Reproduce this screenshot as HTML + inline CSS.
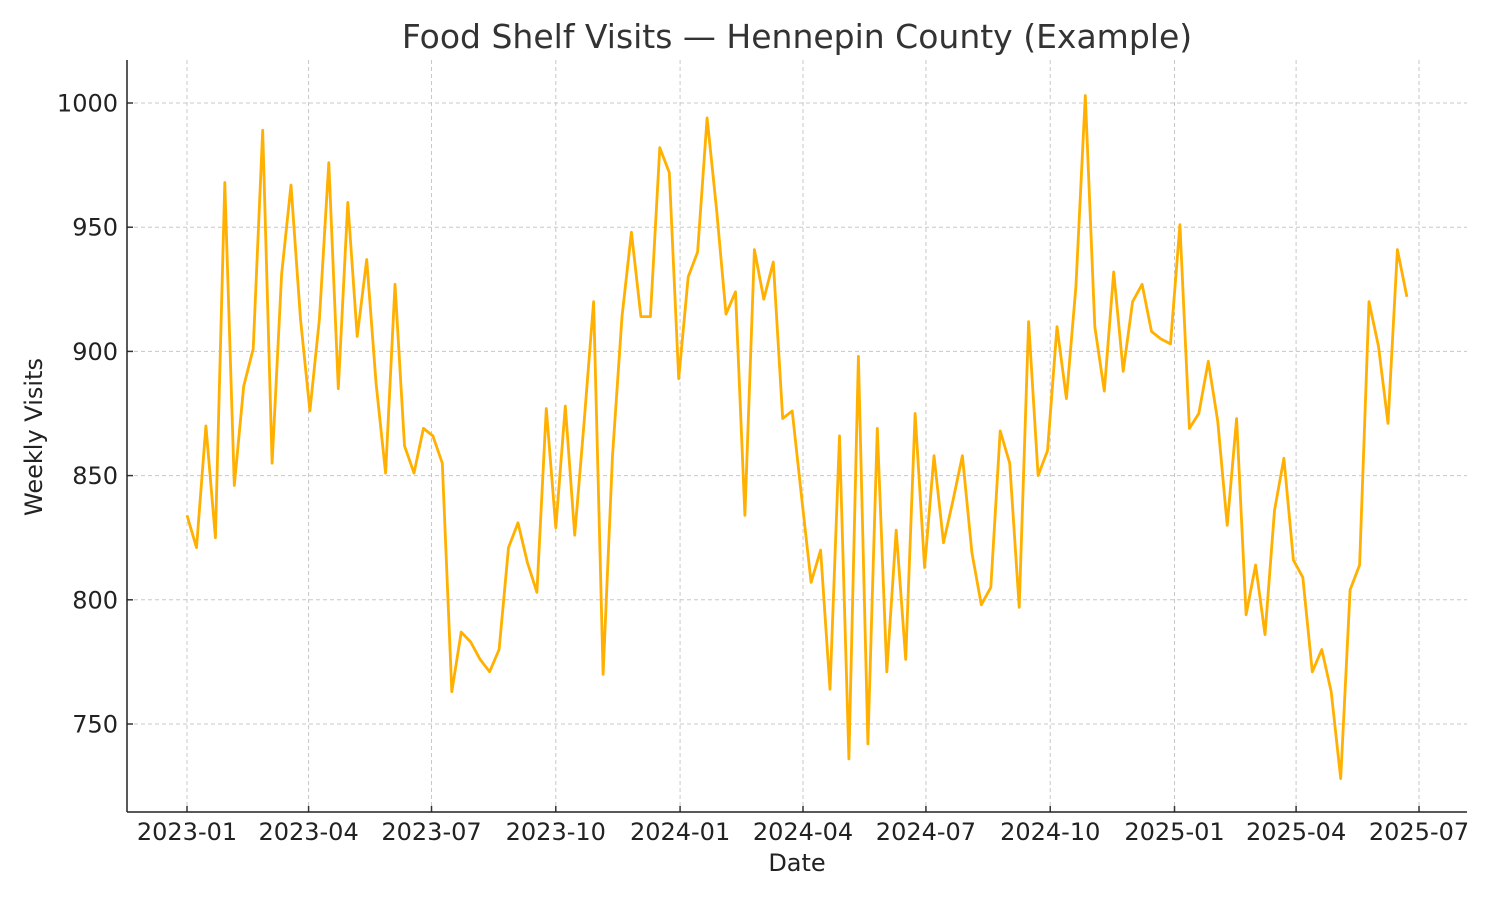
<!DOCTYPE html>
<html><head><meta charset="utf-8">
<style>
body{margin:0;background:#fff;}
svg{display:block;font-family:"DejaVu Sans","Liberation Sans",sans-serif;}
</style></head>
<body>
<svg id="chart" width="1500" height="900" viewBox="0 0 1500 900">
  <rect width="1500" height="900" fill="#fff"/>
  <text x="797" y="48" text-anchor="middle" font-size="33" fill="#333">Food Shelf Visits — Hennepin County (Example)</text>
  <g id="grid"></g>
  <g id="axes"></g>
  <g id="series"></g>
  <text x="797" y="871" text-anchor="middle" font-size="24" fill="#222">Date</text>
  <text x="0" y="0" transform="translate(42,437) rotate(-90)" text-anchor="middle" font-size="24" fill="#222">Weekly Visits</text>
</svg>
<script>
const startDate = "2023-01-01";
const weeklyVisits = [834,821,870,825,968,846,886,901,989,855,931,967,913,876,913,976,885,960,906,937,887,851,927,862,851,869,866,855,763,787,783,776,771,780,821,831,815,803,877,829,878,826,872,920,770,858,914,948,914,914,982,972,889,930,940,994,957,915,924,834,941,921,936,873,876,841,807,820,764,866,736,898,742,869,771,828,776,875,813,858,823,840,858,819,798,805,868,855,797,912,850,860,910,881,926,1003,910,884,932,892,920,927,908,905,903,951,869,875,896,872,830,873,794,814,786,836,857,816,809,771,780,763,728,804,814,920,902,871,941,922];
const xTickLabels = ["2023-01","2023-04","2023-07","2023-10","2024-01","2024-04","2024-07","2024-10","2025-01","2025-04","2025-07"];
const yTickValues = [750,800,850,900,950,1000];

const NS="http://www.w3.org/2000/svg";
const L=127,R=1467,T=60,B=812;
const t0=Date.UTC(2023,0,1), DAY=86400000;
function xScale(ms){return 187+(ms-t0)/DAY*1.3509;}
function yScale(v){return 103+(1000-v)*2.484;}
function mk(tag,attrs,parent){const e=document.createElementNS(NS,tag);for(const k in attrs)e.setAttribute(k,attrs[k]);parent.appendChild(e);return e;}
const grid=document.getElementById('grid'),axes=document.getElementById('axes'),series=document.getElementById('series');

xTickLabels.forEach(lbl=>{
  const [y,m]=lbl.split('-').map(Number);
  const x=xScale(Date.UTC(y,m-1,1));
  const g=mk('line',{x1:x,x2:x,y1:T,y2:B,stroke:'#c8c8c8','stroke-width':1,'stroke-dasharray':'4,3'},grid);
  
  
  const tk=mk('line',{x1:x,x2:x,y1:B-6,y2:B,stroke:'#333','stroke-width':1.5},axes);
  
  
  const tx=mk('text',{x:x,y:B+28,'text-anchor':'middle','font-size':24,fill:'#222'},axes);
  tx.textContent=lbl;
  
  
});
yTickValues.forEach(v=>{
  const y=yScale(v);
  const g=mk('line',{x1:L,x2:R,y1:y,y2:y,stroke:'#c8c8c8','stroke-width':1,'stroke-dasharray':'4,3'},grid);
  
  
  const tk=mk('line',{x1:L,x2:L+6,y1:y,y2:y,stroke:'#333','stroke-width':1.5},axes);
  
  
  const tx=mk('text',{x:L-9,y:y+8.5,'text-anchor':'end','font-size':24,fill:'#222'},axes);
  tx.textContent=v;
  
  
});
const sl=mk('line',{x1:L,x2:L,y1:T,y2:B,stroke:'#222','stroke-width':1.5},axes);


const sb=mk('line',{x1:L,x2:R,y1:B,y2:B,stroke:'#222','stroke-width':1.5},axes);



const pts=weeklyVisits.map((v,i)=>xScale(t0+i*7*DAY).toFixed(1)+','+yScale(v).toFixed(1)).join(' ');
const line=mk('polyline',{points:pts,fill:'none',stroke:'#FFB000','stroke-width':2.8,'stroke-linejoin':'round'},series);


</script>
</body></html>
